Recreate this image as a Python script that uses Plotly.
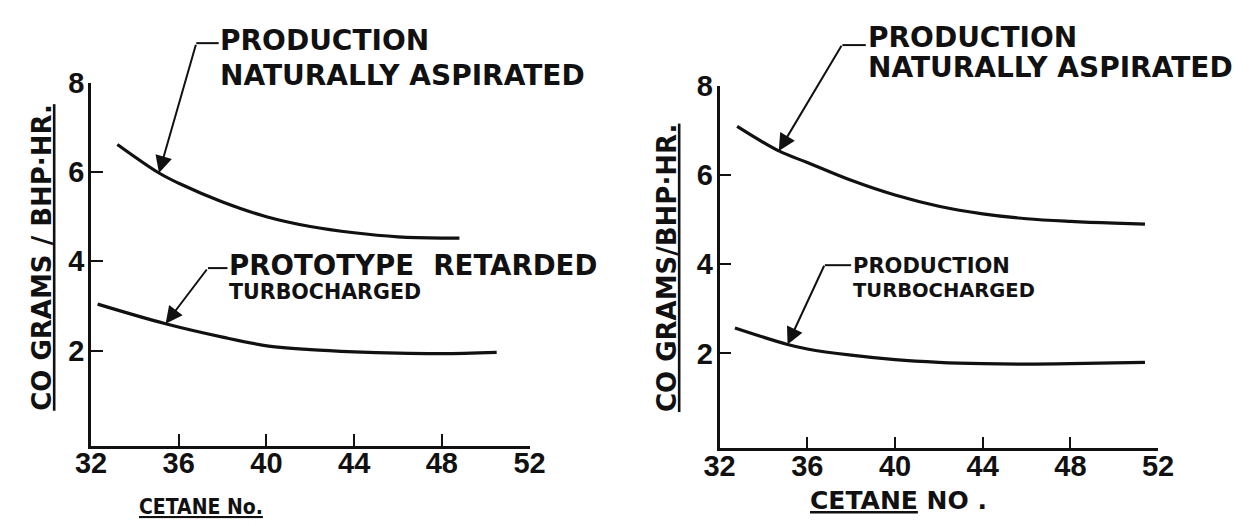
import plotly.graph_objects as go

# ---- data ----
x_ticks = [32, 36, 40, 44, 48, 52]
y_ticks = [2, 4, 6, 8]

left_na_x = [33.2, 35.1, 36, 38, 40, 42, 44, 46, 48, 48.8]
left_na_y = [6.62, 5.98, 5.75, 5.33, 5.0, 4.78, 4.64, 4.55, 4.52, 4.52]
left_tc_x = [32.3, 35.4, 38, 40.1, 42, 44, 46, 48, 50.5]
left_tc_y = [3.04, 2.6, 2.3, 2.1, 2.02, 1.97, 1.94, 1.93, 1.96]
right_na_x = [32.8, 34.7, 36, 38, 40, 42, 44, 46, 48, 50, 51.4]
right_na_y = [7.09, 6.54, 6.28, 5.88, 5.55, 5.3, 5.13, 5.02, 4.96, 4.92, 4.9]
right_tc_x = [32.7, 35.1, 36, 38, 40, 42, 44, 46, 48, 50, 51.4]
right_tc_y = [2.57, 2.2, 2.1, 1.96, 1.86, 1.8, 1.77, 1.76, 1.77, 1.79, 1.8]

INK = "#111111"
TXT = dict(family="DejaVu Sans, Liberation Sans, sans-serif", size=28, color=INK, weight=700)
NARROW = "Liberation Sans Narrow, DejaVu Sans Condensed, Liberation Sans, sans-serif"
TICKF = dict(family="Liberation Sans, DejaVu Sans, sans-serif", size=29, color=INK, weight=700)

W, H = 1255, 526


def px(x):
    return x / W


def py(y):
    return 1 - y / H


fig = go.Figure()

line = dict(color=INK, width=3.2, shape="spline", smoothing=1.0)
fig.add_trace(go.Scatter(x=left_na_x, y=left_na_y, mode="lines", line=line, xaxis="x", yaxis="y"))
fig.add_trace(go.Scatter(x=left_tc_x, y=left_tc_y, mode="lines", line=line, xaxis="x", yaxis="y"))
fig.add_trace(go.Scatter(x=right_na_x, y=right_na_y, mode="lines", line=line, xaxis="x2", yaxis="y2"))
fig.add_trace(go.Scatter(x=right_tc_x, y=right_tc_y, mode="lines", line=line, xaxis="x2", yaxis="y2"))

axis_common = dict(showline=True, linewidth=2.6, linecolor=INK, ticks="inside", ticklen=12,
                   tickwidth=2, tickcolor=INK, showgrid=False, zeroline=False, tickfont=TICKF,
                   fixedrange=True)

fig.update_layout(
    width=W, height=H, margin=dict(l=0, r=0, t=0, b=0),
    paper_bgcolor="white", plot_bgcolor="white", showlegend=False,
    xaxis=dict(domain=[px(77), px(527)], range=[32, 52], tickvals=x_ticks, anchor="y",
               ticklabelstandoff=-10, **axis_common),
    yaxis=dict(domain=[py(443), py(69)], range=[-0.13, 8], tickvals=y_ticks, anchor="x",
               ticklabelstandoff=-2, **axis_common),
    xaxis2=dict(domain=[px(722), px(1172)], range=[32, 52], tickvals=x_ticks, anchor="y2",
                ticklabelstandoff=-10, **axis_common),
    yaxis2=dict(domain=[py(446), py(72)], range=[-0.13, 8], tickvals=y_ticks, anchor="x2",
                ticklabelstandoff=-2, **axis_common),
)

ann = []
shapes = []


def label(x, y, text, size=28, anchor="left", angle=0, family=None, weight=700):
    f = dict(TXT)
    f["size"] = size
    f["weight"] = weight
    if family:
        f["family"] = family
    ann.append(dict(xref="paper", yref="paper", x=px(x), y=py(y), text=text, showarrow=False,
                    xanchor=anchor, yanchor="middle", font=f, textangle=angle))


def leader(xr, yr, tipx, tipy, tailx, taily, dash_px):
    ann.append(dict(xref=xr, yref=yr, axref=xr, ayref=yr, x=tipx, y=tipy, ax=tailx, ay=taily,
                    text="", showarrow=True, arrowhead=2, arrowsize=1.7, arrowwidth=2,
                    arrowcolor=INK))
    (x0, x1, yy) = dash_px
    shapes.append(dict(type="line", xref="paper", yref="paper", x0=px(x0), y0=py(yy),
                       x1=px(x1), y1=py(yy), line=dict(color=INK, width=2)))


# left chart
leader("x", "y", left_na_x[1], left_na_y[1], 36.8, 8.89, (185, 208, 28))
label(207, 25, "PRODUCTION")
label(207, 61, "NATURALLY ASPIRATED")
leader("x", "y", left_tc_x[1], left_tc_y[1], 37.33, 3.85, (197, 217, 260))
label(217, 257, "PROTOTYPE  RETARDED", size=27.6)
label(217, 285, "TURBOCHARGED", size=20.6)
label(190, 506, "<u>CETANE No.</u>", size=21, anchor="center", family=NARROW)
label(27, 249, "<u>CO GRAMS / BHP·HR.</u>", size=26, anchor="center", angle=-90)

# right chart
leader("x2", "y2", right_na_x[1], right_na_y[1], 37.6, 8.93, (848, 872, 30))
label(872, 22, "PRODUCTION")
label(872, 53, "NATURALLY ASPIRATED")
leader("x2", "y2", right_tc_x[1], right_tc_y[1], 36.8, 4.0, (830, 857, 257))
label(857, 258, "PRODUCTION", size=21)
label(857, 283, "TURBOCHARGED", size=19.5)
label(906, 500, "<u>CETANE</u> NO .", size=25, anchor="center")
label(668, 260, "<u>CO GRAMS/BHP·HR.</u>", size=26, anchor="center", angle=-90)

fig.update_layout(annotations=ann, shapes=shapes)
fig.write_html("out.html")
